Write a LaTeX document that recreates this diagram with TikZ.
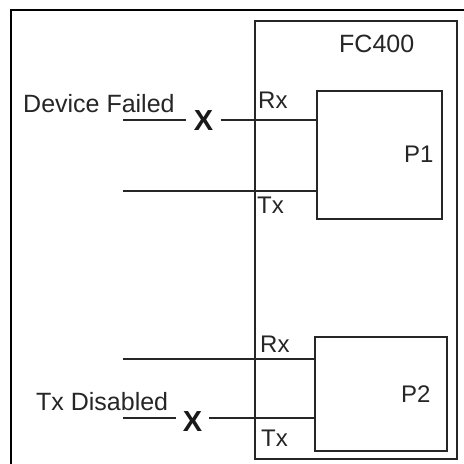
\documentclass[tikz,border=0pt]{standalone}
\usepackage{fontspec}
\setmainfont{Liberation Sans}
\begin{document}
\begin{tikzpicture}[x=1pt,y=-1pt,
  lbl/.style={inner sep=0pt,anchor=base west,text=black!85,font=\fontsize{24}{28}\selectfont},
  boxx/.style={draw=black!85,line width=1.4pt,inner sep=0pt,minimum width=#1},
  wire/.style={draw=black!85,line width=1.1pt},
  xmark/.style={inner sep=0pt,text=black!90,font=\fontsize{29}{30}\selectfont}]
\useasboundingbox[fill=white] (0,0) rectangle (464,464);
% outer frame (top and left edges)
\coordinate (otl) at (11,10);
\coordinate (otr) at (464,10);
\coordinate (obl) at (11,464);
\draw[black,line width=2.2pt] (otr) -- (otl) -- (obl);
% boxes
\node[boxx=202pt,minimum height=438pt] (fc) at (356,240) {};
\node[boxx=125pt,minimum height=128pt] (p1) at (379.5,155) {};
\node[boxx=132pt,minimum height=114pt] (p2) at (381,394) {};
% labels
\node[lbl,font=\fontsize{25}{28}\selectfont] (fct) at (339,52) {FC400};
\node[lbl] (p1t) at (404,162) {P1};
\node[lbl] (p2t) at (401,402) {P2};
\node[lbl] (rx1) at (258,108) {Rx};
\node[lbl] (tx1) at (257,213) {Tx};
\node[lbl] (rx2) at (260,352) {Rx};
\node[lbl] (tx2) at (261,446) {Tx};
\node[lbl,font=\fontsize{25}{28}\selectfont] (dft) at (23,112) {Device Failed};
\node[lbl,font=\fontsize{25}{28}\selectfont] (tdt) at (36,410) {Tx Disabled};
% X marks
\node[xmark,minimum width=34pt] (x1) at (203.5,121) {\bfseries X};
\node[xmark,minimum width=33pt] (x2) at (192.5,422) {\bfseries X};
% wire ends
\coordinate (c1) at (123,120);
\coordinate (c2) at (123,191);
\coordinate (c3) at (123,359);
\coordinate (c4) at (123,418);
% wires
\draw[wire] (c1) -- (c1 -| x1.west);
\draw[wire] (c1 -| x1.east) -- (c1 -| p1.west);
\draw[wire] (c2) -- (c2 -| p1.west);
\draw[wire] (c3) -- (c3 -| p2.west);
\draw[wire] (c4) -- (c4 -| x2.west);
\draw[wire] (c4 -| x2.east) -- (c4 -| p2.west);
\end{tikzpicture}
\end{document}
